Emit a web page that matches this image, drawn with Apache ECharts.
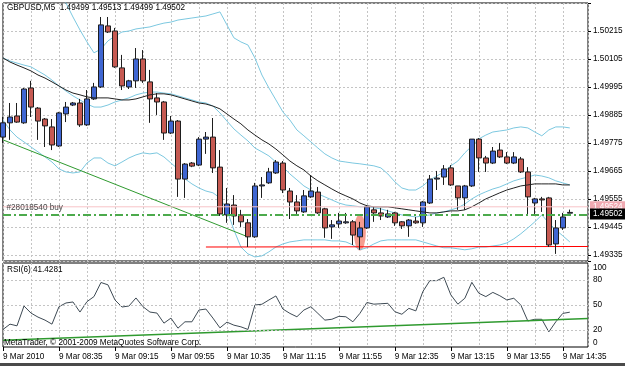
<!DOCTYPE html>
<html>
<head>
<meta charset="utf-8">
<script src="https://cdn.jsdelivr.net/npm/echarts@6/dist/echarts.min.js"></script>
<style>
  html, body { margin: 0; padding: 0; background: #fff; }
  #chart { width: 625px; height: 366px; }
</style>
</head>
<body>
<div id="chart"></div>
<script>
var symbolName = 'GBPUSD,M5'
var timeLabels = ['9 Mar 2010', '9 Mar 08:35', '9 Mar 09:15', '9 Mar 09:55', '9 Mar 10:35', '9 Mar 11:15',
  '9 Mar 11:55', '9 Mar 12:35', '9 Mar 13:15', '9 Mar 13:55', '9 Mar 14:35']
var priceTicks = [1.50215, 1.50105, 1.49995, 1.49885, 1.49775, 1.49665, 1.49555, 1.49445, 1.49335]
var rsiTicks = [0, 20, 50, 80, 100]
var rsiLevels = [20, 50, 80]

// open, close, low, high (one row per 5 min bar from 07:55)
var ohlc = [
  [1.49798, 1.49854, 1.49775, 1.49877], [1.49854, 1.49877, 1.49787, 1.49932], [1.49881, 1.49857, 1.49854, 1.49932],
  [1.49854, 1.49987, 1.49850, 1.49991], [1.49991, 1.49916, 1.49877, 1.50019], [1.49912, 1.49861, 1.49787, 1.49916],
  [1.49869, 1.49842, 1.49759, 1.49873], [1.49838, 1.49767, 1.49747, 1.49869], [1.49763, 1.49893, 1.49759, 1.49897],
  [1.49889, 1.49916, 1.49857, 1.49936], [1.49924, 1.49932, 1.49920, 1.49936], [1.49932, 1.49846, 1.49838, 1.49948],
  [1.49846, 1.49948, 1.49842, 1.49983], [1.49948, 1.49995, 1.49944, 1.50011], [1.49995, 1.50239, 1.49991, 1.50270],
  [1.50235, 1.50211, 1.50207, 1.50270], [1.50215, 1.50074, 1.50070, 1.50227], [1.50070, 1.49999, 1.49983, 1.50121],
  [1.49995, 1.50019, 1.49987, 1.50023], [1.50019, 1.50105, 1.49991, 1.50148], [1.50105, 1.50019, 1.50011, 1.50140],
  [1.50015, 1.49948, 1.49854, 1.50062], [1.49952, 1.49936, 1.49885, 1.49971], [1.49936, 1.49814, 1.49787, 1.49940],
  [1.49814, 1.49861, 1.49810, 1.49881], [1.49861, 1.49633, 1.49563, 1.49865], [1.49633, 1.49692, 1.49559, 1.49696],
  [1.49696, 1.49684, 1.49680, 1.49700], [1.49688, 1.49790, 1.49684, 1.49798], [1.49790, 1.49798, 1.49732, 1.49818],
  [1.49798, 1.49677, 1.49657, 1.49873], [1.49680, 1.49496, 1.49488, 1.49747], [1.49492, 1.49535, 1.49461, 1.49598],
  [1.49531, 1.49488, 1.49453, 1.49570], [1.49492, 1.49465, 1.49445, 1.49512], [1.49461, 1.49406, 1.49366, 1.49476],
  [1.49406, 1.49606, 1.49402, 1.49618], [1.49606, 1.49610, 1.49559, 1.49641], [1.49618, 1.49661, 1.49614, 1.49677],
  [1.49657, 1.49700, 1.49653, 1.49708], [1.49696, 1.49590, 1.49578, 1.49704], [1.49586, 1.49543, 1.49476, 1.49598],
  [1.49543, 1.49508, 1.49496, 1.49570], [1.49504, 1.49567, 1.49500, 1.49590], [1.49563, 1.49586, 1.49559, 1.49649],
  [1.49582, 1.49500, 1.49496, 1.49602], [1.49516, 1.49441, 1.49402, 1.49520], [1.49445, 1.49453, 1.49398, 1.49472],
  [1.49457, 1.49468, 1.49441, 1.49500], [1.49461, 1.49465, 1.49457, 1.49500], [1.49465, 1.49413, 1.49374, 1.49472],
  [1.49406, 1.49441, 1.49355, 1.49465], [1.49441, 1.49524, 1.49437, 1.49531], [1.49512, 1.49500, 1.49465, 1.49524],
  [1.49500, 1.49488, 1.49472, 1.49520], [1.49484, 1.49496, 1.49480, 1.49512], [1.49500, 1.49461, 1.49449, 1.49504],
  [1.49465, 1.49449, 1.49437, 1.49468], [1.49449, 1.49472, 1.49406, 1.49476], [1.49468, 1.49461, 1.49457, 1.49484],
  [1.49461, 1.49543, 1.49445, 1.49547], [1.49539, 1.49633, 1.49535, 1.49649], [1.49633, 1.49637, 1.49590, 1.49665],
  [1.49641, 1.49673, 1.49610, 1.49688], [1.49677, 1.49610, 1.49606, 1.49688], [1.49606, 1.49559, 1.49512, 1.49606],
  [1.49559, 1.49606, 1.49512, 1.49610], [1.49606, 1.49790, 1.49602, 1.49790], [1.49790, 1.49716, 1.49661, 1.49794],
  [1.49716, 1.49696, 1.49661, 1.49724], [1.49696, 1.49743, 1.49692, 1.49759], [1.49747, 1.49720, 1.49716, 1.49775],
  [1.49720, 1.49696, 1.49692, 1.49739], [1.49696, 1.49720, 1.49692, 1.49739], [1.49712, 1.49661, 1.49657, 1.49720],
  [1.49661, 1.49563, 1.49492, 1.49680], [1.49539, 1.49555, 1.49492, 1.49559], [1.49555, 1.49551, 1.49504, 1.49563],
  [1.49559, 1.49374, 1.49366, 1.49563], [1.49378, 1.49441, 1.49339, 1.49472], [1.49441, 1.49484, 1.49433, 1.49500],
  [1.49499, 1.49502, 1.49499, 1.49513]
]

var upperBand = [1.50455, 1.50455, 1.50447, 1.50439, 1.50431, 1.50415, 1.50400, 1.50376, 1.50349, 1.50325,
  1.50270, 1.50219, 1.50172, 1.50129, 1.50144, 1.50176, 1.50195, 1.50211, 1.50215, 1.50223,
  1.50227, 1.50231, 1.50239, 1.50246, 1.50250, 1.50258, 1.50262, 1.50266, 1.50270, 1.50274,
  1.50282, 1.50290, 1.50239, 1.50188, 1.50172, 1.50160, 1.50109, 1.50042, 1.49991, 1.49944,
  1.49897, 1.49865, 1.49826, 1.49803, 1.49779, 1.49755, 1.49732, 1.49716, 1.49704, 1.49700,
  1.49696, 1.49693, 1.49689, 1.49685, 1.49677, 1.49653, 1.49622, 1.49598, 1.49590, 1.49590,
  1.49606, 1.49630, 1.49645, 1.49661, 1.49685, 1.49704, 1.49736, 1.49763, 1.49791, 1.49806,
  1.49818, 1.49822, 1.49826, 1.49834, 1.49838, 1.49834, 1.49818, 1.49803, 1.49826, 1.49838,
  1.49838, 1.49834]
var middleBand = [1.50109, 1.50097, 1.50089, 1.50081, 1.50074, 1.50058, 1.50042, 1.50022, 1.49999, 1.49979,
  1.49960, 1.49944, 1.49928, 1.49916, 1.49916, 1.49924, 1.49936, 1.49944, 1.49952, 1.49964,
  1.49971, 1.49975, 1.49975, 1.49971, 1.49968, 1.49960, 1.49952, 1.49944, 1.49936, 1.49932,
  1.49920, 1.49893, 1.49861, 1.49830, 1.49806, 1.49783, 1.49755, 1.49740, 1.49724, 1.49700,
  1.49681, 1.49653, 1.49630, 1.49606, 1.49590, 1.49575, 1.49563, 1.49551, 1.49539, 1.49531,
  1.49528, 1.49524, 1.49524, 1.49520, 1.49516, 1.49508, 1.49500, 1.49492, 1.49488, 1.49484,
  1.49488, 1.49492, 1.49500, 1.49504, 1.49512, 1.49520, 1.49535, 1.49555, 1.49571, 1.49583,
  1.49594, 1.49602, 1.49614, 1.49626, 1.49634, 1.49641, 1.49649, 1.49645, 1.49638, 1.49626,
  1.49618, 1.49610]
var lowerBand = [1.49865, 1.49826, 1.49798, 1.49779, 1.49759, 1.49740, 1.49720, 1.49700, 1.49673, 1.49661,
  1.49657, 1.49661, 1.49696, 1.49716, 1.49716, 1.49696, 1.49685, 1.49700, 1.49716, 1.49728,
  1.49736, 1.49732, 1.49736, 1.49720, 1.49696, 1.49673, 1.49634, 1.49614, 1.49598, 1.49586,
  1.49579, 1.49559, 1.49512, 1.49433, 1.49366, 1.49339, 1.49327, 1.49331, 1.49347, 1.49366,
  1.49378, 1.49386, 1.49390, 1.49394, 1.49394, 1.49394, 1.49394, 1.49390, 1.49390, 1.49386,
  1.49374, 1.49355, 1.49363, 1.49378, 1.49390, 1.49394, 1.49394, 1.49394, 1.49394, 1.49394,
  1.49386, 1.49378, 1.49370, 1.49363, 1.49363, 1.49359, 1.49355, 1.49359, 1.49366, 1.49366,
  1.49370, 1.49374, 1.49382, 1.49398, 1.49418, 1.49441, 1.49465, 1.49492, 1.49461, 1.49433,
  1.49410, 1.49386]
var maLine = [1.50109, 1.50093, 1.50081, 1.50070, 1.50058, 1.50042, 1.50030, 1.50015, 1.49999, 1.49983,
  1.49971, 1.49964, 1.49956, 1.49952, 1.49952, 1.49952, 1.49948, 1.49944, 1.49944, 1.49948,
  1.49956, 1.49964, 1.49968, 1.49968, 1.49964, 1.49956, 1.49948, 1.49940, 1.49932, 1.49928,
  1.49920, 1.49909, 1.49889, 1.49869, 1.49850, 1.49826, 1.49806, 1.49787, 1.49771, 1.49751,
  1.49728, 1.49704, 1.49685, 1.49669, 1.49645, 1.49626, 1.49610, 1.49594, 1.49579, 1.49567,
  1.49555, 1.49539, 1.49528, 1.49524, 1.49524, 1.49524, 1.49520, 1.49516, 1.49512, 1.49508,
  1.49504, 1.49500, 1.49500, 1.49504, 1.49508, 1.49508, 1.49512, 1.49524, 1.49539, 1.49555,
  1.49567, 1.49579, 1.49590, 1.49598, 1.49606, 1.49610, 1.49614, 1.49614, 1.49614, 1.49614,
  1.49610, 1.49610]
var rsiValues = [20.9, 27.2, 25.2, 48.8, 40.4, 35.6, 32, 27.2, 48, 52.4,
  53.6, 41.6, 54, 60, 76.8, 74, 56, 47.6, 48.8, 58.4,
  48, 41.6, 40.4, 28.4, 34.4, 22.4, 30, 30, 44, 45.2,
  34.4, 22.8, 29.6, 26, 24, 20.9, 50, 50.9, 56, 60.8,
  45.2, 40, 36, 44, 48, 40, 32, 33, 36.5, 36,
  30, 40, 53, 51, 51.5, 52, 42, 39, 46, 43,
  66, 79, 79, 83, 62, 51, 58, 77, 64, 60,
  65, 61, 56, 58, 50, 31, 33, 33, 18, 30,
  40, 41.4281]

// drawn objects: [bar, price] end points
var trendLine = [[0, 1.49787], [35, 1.49406]]
var supportLine = [[29, 1.49366], [83.6, 1.49368]]
var rsiTrend = [[0, 8], [83.6, 34]]
var highlight = [[51, 1.49423]]
var orderPrice = 1.49492
var askPrice = 1.49524
var bidPrice = 1.49502
var orderText = '#28018540 buy'

var fontFam = "'Liberation Sans', Arial, sans-serif"
var fs = 8.2
var gridDot = { color: '#c4c4c4', type: [2, 2], width: 1 }
var lastBar = ohlc[ohlc.length - 1]
var xEnd = 83.6

function pairs (arr) {
  return arr.map(function (v, i) { return [i, v] })
}
function level (p) {
  return [[0, p], [xEnd, p]]
}

var chart = echarts.init(document.getElementById('chart'))
var xBase = {
  type: 'value',
  min: 0,
  max: xEnd,
  interval: 8,
  axisLine: { show: false },
  splitLine: { show: true, lineStyle: gridDot },
  minorTick: { show: false, splitNumber: 2 },
  minorSplitLine: { show: true, lineStyle: gridDot }
}

var option = {
  animation: false,
  backgroundColor: '#ffffff',
  textStyle: { fontFamily: fontFam },
  title: [{
    text: symbolName + '  ' + [lastBar[0], lastBar[3], lastBar[2], lastBar[1]].map(function (v) { return v.toFixed(5) }).join(' '),
    left: 7, top: 4, padding: 0,
    textStyle: { fontSize: fs, fontWeight: 'normal', color: '#000', fontFamily: fontFam }
  }, {
    text: 'RSI(6) ' + rsiValues[rsiValues.length - 1].toFixed(4),
    left: 7, top: 266, padding: 0,
    textStyle: { fontSize: fs, fontWeight: 'normal', color: '#000', fontFamily: fontFam }
  }, {
    text: 'MetaTrader, © 2001-2009 MetaQuotes Software Corp.',
    left: 4, top: 338.5, padding: 0,
    textStyle: { fontSize: fs, fontWeight: 'normal', color: '#000', fontFamily: fontFam }
  }],
  grid: [
    { left: 3, right: 37, top: 3, height: 258, show: true, borderColor: '#000', borderWidth: 1, backgroundColor: '#fff', outerBoundsMode: 'none' },
    { left: 3, right: 37, top: 263, height: 84, show: true, borderColor: '#000', borderWidth: 1, backgroundColor: '#fff', outerBoundsMode: 'none' }
  ],
  xAxis: [
    Object.assign({}, xBase, { gridIndex: 0, axisTick: { show: false }, axisLabel: { show: false } }),
    Object.assign({}, xBase, {
      gridIndex: 1,
      axisTick: { show: true, length: 4, lineStyle: { color: '#000' } },
      axisLabel: {
        show: true, margin: 6, align: 'left', color: '#000', fontSize: fs, fontFamily: fontFam,
        showMaxLabel: false,
        formatter: function (v) {
          var k = Math.round(v / 8)
          return (Math.abs(v - k * 8) < 1e-6 && timeLabels[k]) ? timeLabels[k] : ''
        }
      }
    })
  ],
  yAxis: [
    { gridIndex: 0, type: 'value', min: 1.49311, max: 1.50325, show: false },
    {
      gridIndex: 0, type: 'value', position: 'right', inverse: true,
      min: -1.50325, max: -1.49311, interval: 0.0011,
      axisLine: { show: false },
      axisTick: { show: true, length: 3, lineStyle: { color: '#000' } },
      splitLine: { show: true, lineStyle: gridDot },
      axisLabel: {
        margin: 5, color: '#000', fontSize: fs, fontFamily: fontFam,
        formatter: function (v) {
          var p = -v
          for (var i = 0; i < priceTicks.length; i++) {
            if (Math.abs(priceTicks[i] - p) < 1e-7) return priceTicks[i].toFixed(5)
          }
          return ''
        }
      }
    },
    {
      gridIndex: 1, type: 'value', position: 'right', min: 0, max: 100, interval: 10,
      axisLine: { show: false },
      axisTick: { show: false },
      splitLine: { show: false },
      axisLabel: {
        margin: 5, color: '#000', fontSize: fs, fontFamily: fontFam,
        formatter: function (v) {
          if (rsiTicks.indexOf(v) < 0) return ''
          if (v === 100) return '{top|100}'
          if (v === 0) return '{bot|0}'
          return String(v)
        },
        rich: {
          top: { padding: [9, 0, 0, 0], fontSize: fs, fontFamily: fontFam, color: '#000' },
          bot: { padding: [0, 0, 9, 0], fontSize: fs, fontFamily: fontFam, color: '#000' }
        }
      }
    }
  ],
  series: [
    {
      type: 'scatter', xAxisIndex: 0, yAxisIndex: 0, z: 1,
      data: highlight, symbol: 'circle', symbolSize: [12, 36],
      itemStyle: { color: 'rgba(242,122,104,0.92)' }, silent: true
    },
    {
      type: 'line', xAxisIndex: 0, yAxisIndex: 0, data: pairs(upperBand), symbol: 'none',
      lineStyle: { color: '#7cc8e0', width: 1 }, silent: true
    },
    {
      type: 'line', xAxisIndex: 0, yAxisIndex: 0, data: pairs(middleBand), symbol: 'none',
      lineStyle: { color: '#7cc8e0', width: 1 }, silent: true
    },
    {
      type: 'line', xAxisIndex: 0, yAxisIndex: 0, data: pairs(lowerBand), symbol: 'none',
      lineStyle: { color: '#7cc8e0', width: 1 }, silent: true
    },
    {
      type: 'line', xAxisIndex: 0, yAxisIndex: 0, data: trendLine, symbol: 'none',
      lineStyle: { color: '#2f9a2f', width: 1 }, silent: true
    },
    {
      type: 'line', xAxisIndex: 0, yAxisIndex: 0, data: supportLine, symbol: 'none',
      lineStyle: { color: '#ff0000', width: 1 }, silent: true
    },
    {
      type: 'line', xAxisIndex: 0, yAxisIndex: 0, data: pairs(maLine), symbol: 'none', z: 4,
      lineStyle: { color: '#222', width: 1 }, silent: true
    },
    {
      type: 'candlestick', xAxisIndex: 0, yAxisIndex: 0, z: 3,
      encode: { x: 0, y: [1, 2, 3, 4] },
      data: ohlc.map(function (d, i) { return [i, d[0], d[1], d[2], d[3]] }),
      barWidth: 5,
      itemStyle: { color: '#3f66d2', color0: '#c65a52', borderColor: '#1e1e1e', borderColor0: '#1e1e1e', borderWidth: 1 }
    },
    {
      type: 'line', xAxisIndex: 0, yAxisIndex: 0, data: level(askPrice), symbol: 'none', z: 5,
      lineStyle: { color: '#f8c4c8', width: 1 }, silent: true,
      endLabel: { show: true, distance: 2, formatter: askPrice.toFixed(5), color: '#fff',
        backgroundColor: '#f0aab2', padding: [2, 3, 1, 3], fontSize: fs, fontFamily: fontFam }
    },
    {
      type: 'line', xAxisIndex: 0, yAxisIndex: 0, data: level(orderPrice), symbol: 'none', z: 6,
      lineStyle: { color: '#4caa4c', width: 2, type: [8, 3, 2, 3] }, silent: true
    },
    {
      type: 'scatter', xAxisIndex: 0, yAxisIndex: 0, z: 6, silent: true,
      data: [[0, orderPrice]], symbol: 'circle', symbolSize: 1, itemStyle: { color: 'rgba(0,0,0,0)' },
      label: { show: true, position: 'right', distance: 3, offset: [0, -7], formatter: orderText,
        color: '#111', fontSize: fs, fontFamily: fontFam }
    },
    {
      type: 'line', xAxisIndex: 0, yAxisIndex: 0, data: level(bidPrice), symbol: 'none', z: 7,
      lineStyle: { color: 'rgba(0,0,0,0)', width: 1 }, silent: true,
      endLabel: { show: true, distance: 2, offset: [0, 1.5], formatter: bidPrice.toFixed(5), color: '#fff',
        backgroundColor: '#000', padding: [2, 3, 1, 3], fontSize: fs, fontFamily: fontFam }
    },
    {
      type: 'line', xAxisIndex: 1, yAxisIndex: 2, data: pairs(rsiValues), symbol: 'none',
      lineStyle: { color: '#3e4a54', width: 1 }, silent: true,
      markLine: {
        silent: true, symbol: 'none', animation: false,
        label: { show: false },
        lineStyle: gridDot,
        data: rsiLevels.map(function (v) { return { yAxis: v } })
      }
    },
    {
      type: 'line', xAxisIndex: 1, yAxisIndex: 2, data: rsiTrend, symbol: 'none',
      lineStyle: { color: '#2f9a2f', width: 1.5 }, silent: true
    }
  ],
  graphic: [
    { type: 'rect', shape: { x: 0, y: 363, width: 625, height: 3 }, style: { fill: '#4a4a4a' }, silent: true }
  ]
}
chart.setOption(option)
</script>
</body>
</html>
